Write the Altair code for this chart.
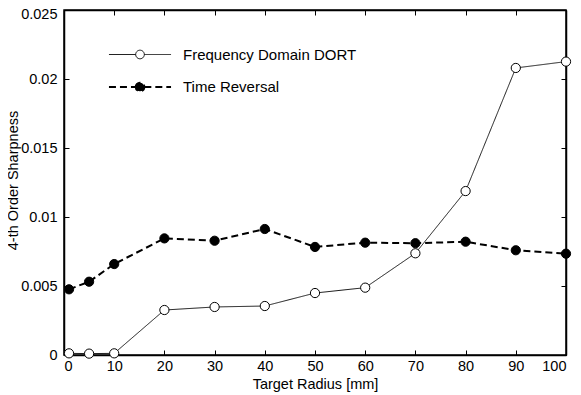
import altair as alt
import pandas as pd

radius = [1, 5, 10, 20, 30, 40, 50, 60, 70, 80, 90, 100]
dort = [0.00012, 0.00010, 0.00012, 0.00326, 0.00348, 0.00355, 0.00449, 0.00488, 0.00737, 0.01188, 0.02080, 0.02126]
time_reversal = [0.00476, 0.00531, 0.00659, 0.00845, 0.00828, 0.00913, 0.00783, 0.00814, 0.00810, 0.00821, 0.00759, 0.00734]
series_names = ["Frequency Domain DORT", "Time Reversal"]
x_ticks = [0, 10, 20, 30, 40, 50, 60, 70, 80, 90, 100]
y_ticks = [0, 0.005, 0.01, 0.015, 0.02, 0.025]

rows = []
for name, vals in zip(series_names, [dort, time_reversal]):
    for r, v in zip(radius, vals):
        rows.append({"series": name, "radius": r, "value": v})
df = pd.DataFrame(rows)

W, H = 502, 345
FONT = "Liberation Sans"

xs = alt.Scale(domain=[0, 100], nice=False, zero=False)
ys = alt.Scale(domain=[0, 0.025], nice=False, zero=False)

LEG_PATH = ("M-1.94,0L-0.27,0M0.27,0L1.94,0"
            "M-0.27,0A0.27,0.27,0,1,1,0.27,0A0.27,0.27,0,1,1,-0.27,0")
legend = alt.Legend(orient="none", legendX=59, legendY=28, symbolType=LEG_PATH,
                    symbolSize=1024, labelOffset=26, labelFontSize=15, labelFont=FONT,
                    labelColor="black", labelLimit=400, rowPadding=7, padding=0,
                    symbolStrokeColor="black")

inward = {"expr": "-5"}

x_main = alt.X("radius:Q", scale=xs,
               axis=alt.Axis(values=x_ticks, tickSize=inward, labelPadding=9,
                             title="Target Radius [mm]", titlePadding=5))
y_main = alt.Y("value:Q", scale=ys,
               axis=alt.Axis(values=y_ticks, tickSize=inward, labelPadding=12, format="~g",
                             labelOffset={"condition": {"test": "datum.value >= 0.025", "value": 4},
                                          "value": 0},
                             title="4-th Order Sharpness", titleX=-47, titleY=170,
                             titleAngle=270, titleAlign="center", titleBaseline="alphabetic"))

lines = alt.Chart(df).mark_line(color="black").encode(
    x=x_main, y=y_main,
    strokeDash=alt.StrokeDash("series:N", title=None, legend=legend,
                              scale=alt.Scale(domain=series_names, range=[[1, 0], [7, 4]])),
    strokeWidth=alt.StrokeWidth("series:N", title=None, legend=legend,
                                scale=alt.Scale(domain=series_names, range=[0.9, 2])),
    order=alt.Order("radius:Q"),
)

points = alt.Chart(df).mark_point(filled=True, size=85, stroke="black", strokeWidth=1,
                                  opacity=1).encode(
    x=alt.X("radius:Q", scale=xs),
    y=alt.Y("value:Q", scale=ys),
    fill=alt.Fill("series:N", title=None, legend=legend,
                  scale=alt.Scale(domain=series_names, range=["white", "black"])),
)

data_layer = alt.layer(lines, points)

frame = alt.Chart(df).mark_point(opacity=0).encode(
    x=alt.X("radius:Q", scale=xs,
            axis=alt.Axis(orient="top", values=x_ticks, labels=False, title=None, tickSize=inward)),
    y=alt.Y("value:Q", scale=ys,
            axis=alt.Axis(orient="right", values=y_ticks, labels=False, title=None, tickSize=inward)),
)

chart = alt.layer(data_layer, frame).resolve_scale(
    x="independent", y="independent"
).properties(
    width=W, height=H,
    autosize=alt.AutoSizeParams(type="none"),
    padding={"left": 56, "top": 2, "right": 7, "bottom": 39},
).configure_view(
    stroke="black", strokeWidth=1.5
).configure_axis(
    domainColor="black", domainWidth=1.5, tickColor="black", tickWidth=1,
    labelFont=FONT, labelFontSize=14.5, labelColor="black",
    titleFont=FONT, titleFontSize=14.5, titleFontWeight="normal", titleColor="black",
    grid=False,
)

chart.save("out.html", embed_options={"renderer": "svg", "actions": False})
